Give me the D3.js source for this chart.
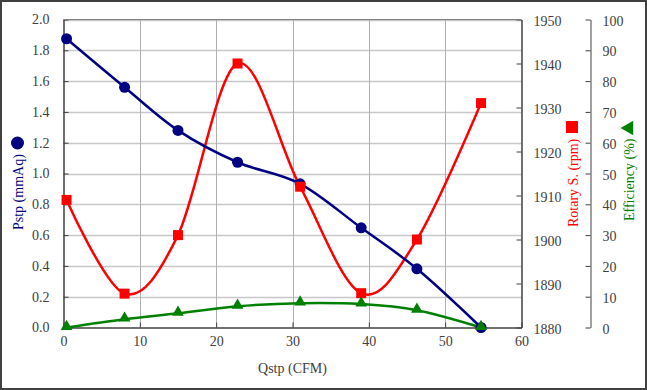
<!DOCTYPE html>
<html>
<head>
<meta charset="utf-8">
<script src="https://cdn.jsdelivr.net/npm/d3@7"></script>
<style>
  html, body { margin: 0; padding: 0; background: #fff; }
  svg { display: block; }
  text { font-family: "Liberation Serif", "DejaVu Serif", serif; }
</style>
</head>
<body>
<svg id="chart" width="647" height="390"></svg>
<script>
// ---- data ----
const qstp = [0.4, 8, 15, 22.8, 31, 39, 46.3, 54.7];
const pstp = [1.875, 1.56, 1.28, 1.073, 0.933, 0.647, 0.381, 0.0];
const rpm = [1909, 1887.7, 1901, 1940, 1912, 1887.8, 1900, 1931];
const efficiency = [0, 2.7, 4.6, 6.9, 7.9, 7.6, 5.6, 0];
const xTicks = [0, 10, 20, 30, 40, 50, 60];
const pTicks = [0, 0.2, 0.4, 0.6, 0.8, 1.0, 1.2, 1.4, 1.6, 1.8, 2.0];
const rTicks = [1880, 1890, 1900, 1910, 1920, 1930, 1940, 1950];
const eTicks = [0, 10, 20, 30, 40, 50, 60, 70, 80, 90, 100];

const svg = d3.select("#chart");
const W = 647, H = 390;
const L = 63.5, R = 521.5, T = 19.5, B = 327.5;
const effX = 590.5;

const x = d3.scaleLinear().domain([0, 60]).range([L, R]);
const yP = d3.scaleLinear().domain([0, 2]).range([B, T]);
const yR = d3.scaleLinear().domain([1880, 1950]).range([B, T]);
const yE = d3.scaleLinear().domain([0, 100]).range([B, T]);

const axisCol = "#404040";
const labelCol = "#404040";

// outer border
svg.append("rect").attr("x", 1).attr("y", 1).attr("width", W - 2).attr("height", H - 2)
  .attr("fill", "#fff").attr("stroke", "#404040").attr("stroke-width", 2);

// gridlines
svg.append("g").selectAll("line").data(pTicks.slice(1)).join("line")
  .attr("x1", L).attr("x2", R)
  .attr("y1", d => Math.round(yP(d)) + 0.5).attr("y2", d => Math.round(yP(d)) + 0.5)
  .attr("stroke", "#c8c8c8").attr("stroke-width", 1.6);
svg.append("g").selectAll("line").data(xTicks.slice(1, -1)).join("line")
  .attr("y1", T).attr("y2", B)
  .attr("x1", d => Math.round(x(d)) + 0.5).attr("x2", d => Math.round(x(d)) + 0.5)
  .attr("stroke", "#b0b0b0").attr("stroke-width", 1);

// axes
const fmt1 = d3.format(".1f");
const gL = svg.append("g").attr("transform", `translate(${L},0)`)
  .call(d3.axisLeft(yP).tickValues(pTicks).tickFormat(fmt1).tickSizeInner(-5).tickSizeOuter(0).tickPadding(14));
const gB = svg.append("g").attr("transform", `translate(0,${B})`)
  .call(d3.axisBottom(x).tickValues(xTicks).tickFormat(d3.format("d")).tickSizeInner(-5).tickSizeOuter(0).tickPadding(9));
const gR = svg.append("g").attr("transform", `translate(${R},0)`)
  .call(d3.axisRight(yR).tickValues(rTicks).tickFormat(d3.format("d")).tickSizeInner(-5).tickSizeOuter(0).tickPadding(12));
const gE = svg.append("g").attr("transform", `translate(${effX},0)`)
  .call(d3.axisRight(yE).tickValues(eTicks).tickFormat(d3.format("d")).tickSizeInner(-5).tickSizeOuter(0).tickPadding(12));

[gL, gB, gR, gE].forEach(g => {
  g.selectAll("text").attr("font-size", 14).attr("fill", labelCol)
    .attr("font-family", "'Liberation Serif', 'DejaVu Serif', serif");
  g.selectAll("line").attr("stroke", axisCol);
  g.select(".domain").attr("stroke", axisCol).attr("stroke-width", 1.5);
});
gE.select(".domain").attr("stroke", "#808080");
gE.selectAll("text").attr("dy", "0.4em");
gR.selectAll("text").attr("dy", "0.4em");

// top border
svg.append("line").attr("x1", L).attr("x2", R).attr("y1", T).attr("y2", T)
  .attr("stroke", "#808080").attr("stroke-width", 1.2);

// series
const curve = d3.curveCatmullRom.alpha(0);
const lineP = d3.line().x((d, i) => x(qstp[i])).y(d => yP(d)).curve(curve);
const lineR = d3.line().x((d, i) => x(qstp[i])).y(d => yR(d)).curve(curve);
const lineE = d3.line().x((d, i) => x(qstp[i])).y(d => yE(d)).curve(curve);

const navy = "#000080", red = "#ff0000", green = "#008000";
const tri = d3.symbol().type(d3.symbolTriangle).size(60);

svg.append("path").attr("d", lineE(efficiency)).attr("fill", "none").attr("stroke", green).attr("stroke-width", 2.5);
svg.append("path").attr("d", lineR(rpm)).attr("fill", "none").attr("stroke", red).attr("stroke-width", 2.5);
svg.append("path").attr("d", lineP(pstp)).attr("fill", "none").attr("stroke", navy).attr("stroke-width", 2.5);

svg.append("g").selectAll("circle").data(pstp).join("circle")
  .attr("cx", (d, i) => x(qstp[i])).attr("cy", d => yP(d)).attr("r", 5.5).attr("fill", navy);
svg.append("g").selectAll("rect").data(rpm).join("rect")
  .attr("x", (d, i) => x(qstp[i]) - 5).attr("y", d => yR(d) - 5)
  .attr("width", 10).attr("height", 10).attr("fill", red);
svg.append("g").selectAll("path").data(efficiency).join("path")
  .attr("d", tri)
  .attr("transform", (d, i) => `translate(${x(qstp[i])},${yE(d) - 1})`)
  .attr("fill", green);

// axis titles
svg.append("text").attr("x", (L + R) / 2).attr("y", 373).attr("text-anchor", "middle")
  .attr("font-size", 14).attr("fill", labelCol).text("Qstp (CFM)");

// left title
svg.append("text").attr("transform", "translate(23,230) rotate(-90)")
  .attr("text-anchor", "start").attr("font-size", 14).attr("fill", navy).text("Pstp (mmAq)");
svg.append("circle").attr("cx", 17.5).attr("cy", 143).attr("r", 6.5).attr("fill", navy);

// rotary title
svg.append("text").attr("transform", "translate(578,227) rotate(-90)")
  .attr("text-anchor", "start").attr("font-size", 14).attr("fill", red).text("Rotary S. (rpm)");
svg.append("rect").attr("x", 566).attr("y", 121).attr("width", 12).attr("height", 12).attr("fill", red);

// efficiency title
svg.append("text").attr("transform", "translate(634,221) rotate(-90)")
  .attr("text-anchor", "start").attr("font-size", 14).attr("fill", green).text("Efficiency (%)");
svg.append("path").attr("d", d3.symbol().type(d3.symbolTriangle).size(90))
  .attr("transform", "translate(629,128) rotate(-90)").attr("fill", green);
</script>
</body>
</html>
